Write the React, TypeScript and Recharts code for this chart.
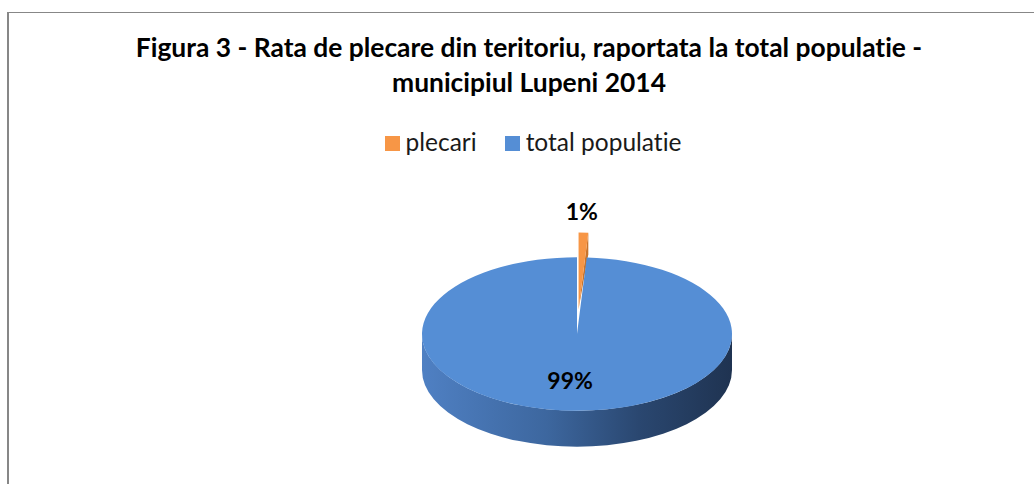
import { PieChart, Pie, Cell, Legend } from 'recharts'

const categories = ['plecari', 'total populatie']
const shares = [1, 99]
const colors = ['#f79646', '#558ed5']
const sideColors = ['#c8732b', 'url(#blueSide)']
const titleLines = [
    'Figura 3 - Rata de plecare din teritoriu, raportata la total populatie -',
    'municipiul Lupeni 2014',
]

const data = categories.map((name, i) => ({ name, value: shares[i] }))

const FONT = 'Lato, "Open Sans", sans-serif'
const CX = 577
const CY = 334
const RX = 155
const TILT = 0.495 // vertical squash of the pie top
const DEPTH = 36
const EXPLODE = 50
const RAD = Math.PI / 180

function origin(cx: number, cy: number, mid: number, off: number) {
    return [cx + off * Math.cos(mid * RAD), cy - off * TILT * Math.sin(mid * RAD)]
}

function Slice3D(props: any) {
    const { cx, cy, outerRadius: r, startAngle, endAngle, fill, index } = props
    const hi = Math.max(startAngle, endAngle)
    const lo = Math.min(startAngle, endAngle)
    const mid = (hi + lo) / 2
    const off = props.percent < 0.05 ? EXPLODE : 0
    const [ox, oy] = origin(cx, cy, mid, off)
    const ry = r * TILT
    const P = (a: number, dy = 0) =>
        `${ox + r * Math.cos(a * RAD)},${oy - ry * Math.sin(a * RAD) + dy}`
    const large = hi - lo > 180 ? 1 : 0
    const side = sideColors[index] ?? '#333'

    const walls: any[] = []
    // outer wall, only the front half (angles where sin < 0) is visible
    for (const k of [-1, 0, 1]) {
        const a1 = Math.min(hi, 360 * k)
        const a2 = Math.max(lo, -180 + 360 * k)
        if (a1 > a2) {
            const lg = a1 - a2 > 180 ? 1 : 0
            walls.push(
                <path
                    key={`w${k}`}
                    d={`M${P(a1)} A${r},${ry} 0 ${lg} 1 ${P(a2)} L${P(a2, DEPTH)} A${r},${ry} 0 ${lg} 0 ${P(a1, DEPTH)} Z`}
                    fill={side}
                />
            )
        }
    }
    // radial cut face on the clockwise edge
    if (hi - lo < 359 && Math.sin((lo - 90) * RAD) < 0) {
        walls.push(
            <path
                key="cut"
                d={`M${ox},${oy} L${P(lo)} L${P(lo, DEPTH * 0.6)} Z`}
                fill={side}
            />
        )
    }

    return (
        <g>
            <defs>
                <linearGradient
                    id="blueSide"
                    gradientUnits="userSpaceOnUse"
                    x1={cx - r}
                    y1={0}
                    x2={cx + r}
                    y2={0}
                >
                    <stop offset="0%" stopColor="#4f80c3" />
                    <stop offset="40%" stopColor="#3d679f" />
                    <stop offset="70%" stopColor="#2a4770" />
                    <stop offset="100%" stopColor="#1f3351" />
                </linearGradient>
            </defs>
            {walls}
            <path
                d={`M${ox},${oy} L${P(hi)} A${r},${ry} 0 ${large} 1 ${P(lo)} Z`}
                fill={fill}
            />
        </g>
    )
}

function renderLabel(props: any) {
    const { cx, cy, midAngle, outerRadius: r, percent } = props
    const outside = percent < 0.05
    const f = outside ? 1.61 : 0.6
    const x = cx + f * r * Math.cos(midAngle * RAD) - (outside ? 3 : 4)
    const y = cy - f * r * TILT * Math.sin(midAngle * RAD)
    return (
        <text
            x={x}
            y={y}
            textAnchor="middle"
            dominantBaseline="central"
            fontFamily={FONT}
            fontWeight={700}
            fontSize={23}
            fill="#000"
        >
            {`${Math.round(percent * 100)}%`}
        </text>
    )
}

function renderLegend(props: any) {
    const items = props.payload ?? []
    return (
        <div
            style={{
                display: 'flex',
                justifyContent: 'center',
                gap: 28,
                fontFamily: FONT,
                fontSize: 24.5,
                fontVariantLigatures: 'none',
                color: '#1a1a1a',
                paddingLeft: 32,
            }}
        >
            {items.map((it: any) => (
                <div
                    key={it.value}
                    style={{ display: 'flex', alignItems: 'center', gap: 6 }}
                >
                    <span
                        style={{
                            width: 15,
                            height: 15,
                            flexShrink: 0,
                            marginTop: 3,
                            background: it.color,
                            display: 'inline-block',
                        }}
                    />
                    <span>{it.value}</span>
                </div>
            ))}
        </div>
    )
}

export default function App() {
    return (
        <div
            style={{
                position: 'absolute',
                left: 0,
                top: 0,
                width: 1034,
                height: 484,
                overflow: 'hidden',
                background: '#fff',
            }}
        >
            <div
                style={{
                    position: 'absolute',
                    left: 7,
                    top: 12,
                    width: 1100,
                    height: 600,
                    borderLeft: '2px solid #878787',
                    borderTop: '1.5px solid #878787',
                }}
            />
            <div
                style={{
                    position: 'absolute',
                    left: 0,
                    top: 30,
                    width: 1058,
                    textAlign: 'center',
                    fontFamily: FONT,
                    fontWeight: 700,
                    fontSize: 26.4,
                    lineHeight: '35px',
                    fontVariantLigatures: 'none',
                    color: '#000',
                }}
            >
                {titleLines.map((t) => (
                    <div key={t}>{t}</div>
                ))}
            </div>
            <div style={{ position: 'absolute', left: 0, top: 0 }}>
                <PieChart
                    width={1034}
                    height={484}
                    margin={{ top: 0, right: 0, bottom: 0, left: 0 }}
                >
                    <Legend
                        verticalAlign="bottom"
                        content={renderLegend}
                        wrapperStyle={{ top: 127, bottom: 'auto', left: 0, width: 1034 }}
                    />
                    <Pie
                        data={data}
                        dataKey="value"
                        nameKey="name"
                        cx={CX}
                        cy={CY}
                        outerRadius={RX}
                        startAngle={90}
                        endAngle={-270}
                        stroke="none"
                        isAnimationActive={false}
                        shape={Slice3D}
                        activeShape={Slice3D}
                        inactiveShape={Slice3D}
                        label={renderLabel}
                        labelLine={false}
                    >
                        {data.map((d, i) => (
                            <Cell key={d.name} fill={colors[i]} />
                        ))}
                    </Pie>
                </PieChart>
            </div>
        </div>
    )
}
